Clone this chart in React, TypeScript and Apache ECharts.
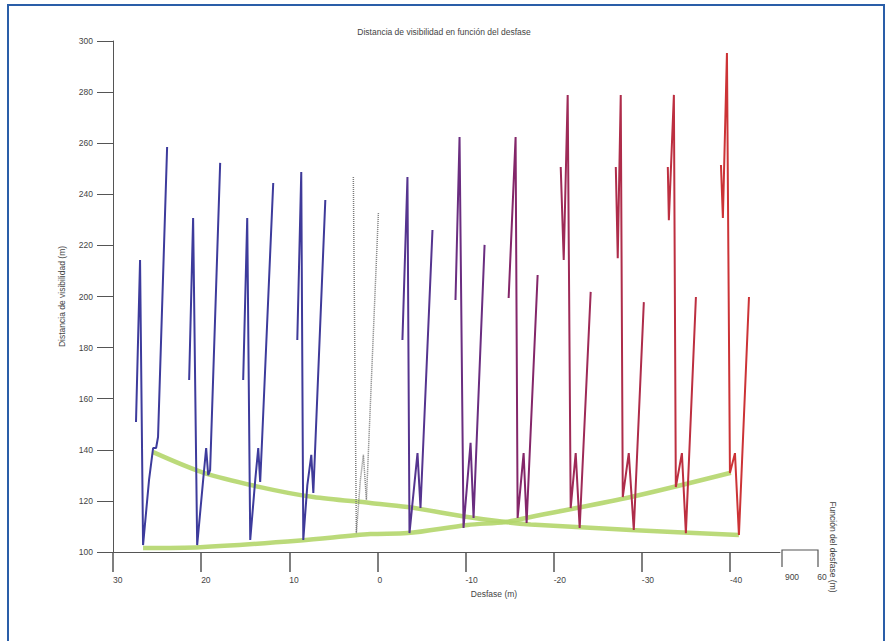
import React, { useEffect, useRef } from "react";
import * as echarts from "echarts";

const title = "Distancia de visibilidad en función del desfase";
const yName = "Distancia de visibilidad (m)";
const xName = "Desfase (m)";
const rightName = "Función del desfase (m)";
const xTicks = [30, 20, 10, 0, -10, -20, -30, -40];
const rightTicks = ["900", "60"];

// [desfase, distancia]
const blue1 = [[27.39, 150.9], [26.93, 214.3], [26.59, 102.7], [25.91, 128.2], [25.45, 140.7], [25.11, 140.7], [24.89, 145], [23.86, 258.5]];
const blue2 = [[21.36, 167.3], [20.91, 230.7], [20.45, 102.7], [19.77, 128.2], [19.43, 140.7], [19.2, 130.1], [18.98, 132], [17.84, 252.3]];
const blue3 = [[15.23, 167.3], [14.77, 230.7], [14.43, 104.7], [13.86, 128.2], [13.52, 140.7], [13.3, 127.4], [13.07, 145], [11.82, 244.4]];
const blue4 = [[9.09, 183], [8.64, 248.7], [8.41, 104.7], [7.95, 126.2], [7.5, 138], [7.27, 123.1], [5.91, 237.8]];
const gray0 = [[2.73, 246.8], [2.39, 107.4], [1.93, 128.2], [1.59, 138], [1.25, 120.4], [-0.11, 232.7]];
const purple1 = [[-2.84, 183], [-3.41, 246.8], [-3.64, 107.4], [-4.55, 138.7], [-4.89, 117.2], [-6.25, 226]];
const purple2 = [[-8.86, 198.6], [-9.32, 262.4], [-9.77, 109.4], [-10.57, 142.7], [-10.91, 113.3], [-12.16, 220.2]];
const purple3 = [[-14.89, 199.4], [-15.68, 262.4], [-15.91, 113.3], [-16.59, 138.7], [-16.93, 111.4], [-18.18, 208.4]];
const red1 = [[-20.8, 250.7], [-21.14, 214.3], [-21.59, 278.9], [-21.93, 117.2], [-22.5, 138.7], [-22.95, 109.4], [-24.2, 201.8]];
const red2 = [[-27.05, 250.7], [-27.27, 215], [-27.61, 278.9], [-27.84, 121.5], [-28.52, 138.7], [-29.09, 108.6], [-30.23, 197.8]];
const red3 = [[-32.95, 250.7], [-33.07, 229.9], [-33.64, 278.9], [-33.86, 125.4], [-34.55, 138.7], [-35.0, 107.4], [-36.14, 199.8]];
const red4 = [[-38.98, 251.5], [-39.2, 230.7], [-39.66, 295.3], [-40.0, 130.9], [-40.57, 138.7], [-41.02, 106.7], [-42.16, 199.8]];

const greenUpper = [[25.45, 139.1], [19.77, 131.1], [13.3, 125.4], [7.27, 121.5], [0.8, 119.2], [-3.41, 117.6], [-10.23, 113.7], [-14.55, 111.7], [-17.39, 110.8], [-28.75, 108.6], [-41.02, 106.7]];
const greenLower = [[26.59, 101.6], [20.11, 101.9], [8.75, 104.5], [0.8, 107], [-3.41, 107.4], [-10.23, 110.6], [-14.55, 111.7], [-17.39, 113.7], [-28.75, 121.5], [-40.11, 131]];

const FONT = "Liberation Sans, Arial, sans-serif";

export default function App() {
  const ref = useRef<HTMLDivElement>(null);
  useEffect(() => {
    const chart = echarts.init(ref.current!, null, { renderer: "svg" });
    const groups: [number[][], string, boolean][] = [
      [blue1, "#3d3b9c", false],
      [blue2, "#3d3b9c", false],
      [blue3, "#3d3b9c", false],
      [blue4, "#3f3a99", false],
      [gray0, "#7a7a7a", true],
      [purple1, "#55348f", false],
      [purple2, "#6a2d80", false],
      [purple3, "#842669", false],
      [red1, "#9e2a57", false],
      [red2, "#ae2c4a", false],
      [red3, "#bd2f40", false],
      [red4, "#cc3336", false],
    ];
    const green = (d: number[][]) => ({
      type: "line",
      data: d,
      smooth: 0.3,
      showSymbol: false,
      z: 1,
      lineStyle: { color: "#b4d66c", width: 4.5, opacity: 0.9 },
    });
    chart.setOption({
      animation: false,
      backgroundColor: "#ffffff",
      title: {
        text: title,
        left: "center",
        top: 22,
        textStyle: { fontSize: 8.5, fontWeight: "normal", color: "#444", fontFamily: FONT },
      },
      grid: { left: 113, top: 41, width: 667, height: 511, containLabel: false },
      xAxis: {
        type: "value",
        min: -45.68,
        max: 30,
        inverse: true,
        axisLine: { show: true, onZero: false, lineStyle: { color: "#555", width: 1 } },
        axisTick: { show: true, length: 20, customValues: xTicks, lineStyle: { color: "#555", width: 1.5 } },
        axisLabel: {
          customValues: xTicks,
          margin: 23,
          align: "left",
          fontSize: 8.5,
          color: "#444",
          fontFamily: FONT,
        },
        splitLine: { show: false },
      },
      yAxis: {
        type: "value",
        min: 100,
        max: 300,
        interval: 20,
        name: yName,
        nameLocation: "middle",
        nameGap: 47,
        nameTextStyle: { fontSize: 8.5, color: "#444", fontFamily: FONT },
        axisLine: { show: true, onZero: false, lineStyle: { color: "#555", width: 1 } },
        axisTick: { show: true, length: 16, lineStyle: { color: "#555", width: 1 } },
        axisLabel: { margin: 20, fontSize: 8.5, color: "#444", fontFamily: FONT },
        splitLine: { show: false },
      },
      series: [
        green(greenUpper),
        green(greenLower),
        ...groups.map(([d, c, dotted]) => ({
          type: "line",
          data: d,
          showSymbol: false,
          z: 3,
          lineStyle: dotted
            ? { color: c, width: 1.5, type: [1, 1] }
            : { color: c, width: 2 },
        })),
      ],
      graphic: [
        {
          type: "rect",
          shape: { x: 8, y: 5, width: 876, height: 660 },
          style: { fill: "none", stroke: "#2a5ea8", lineWidth: 2 },
          silent: true,
        },
        {
          type: "polyline",
          shape: { points: [[782, 567], [782, 550], [818, 550], [818, 567]] },
          style: { fill: "none", stroke: "#555", lineWidth: 1.2 },
        },
        {
          type: "text",
          x: 792,
          y: 577,
          style: { text: rightTicks[0], fontSize: 8.5, fill: "#444", fontFamily: FONT, align: "center", verticalAlign: "middle" },
        },
        {
          type: "text",
          x: 822,
          y: 577,
          style: { text: rightTicks[1], fontSize: 8.5, fill: "#444", fontFamily: FONT, align: "center", verticalAlign: "middle" },
        },
        {
          type: "text",
          x: 833,
          y: 547,
          rotation: -Math.PI / 2,
          style: { text: rightName, fontSize: 8.5, fill: "#444", fontFamily: FONT, align: "center", verticalAlign: "middle" },
        },
        {
          type: "text",
          x: 494,
          y: 594,
          style: { text: xName, fontSize: 8.5, fill: "#444", fontFamily: FONT, align: "center", verticalAlign: "middle" },
        },
      ],
    });
    return () => chart.dispose();
  }, []);
  return <div ref={ref} style={{ position: "absolute", left: 0, top: 0, width: 888, height: 641 }} />;
}
